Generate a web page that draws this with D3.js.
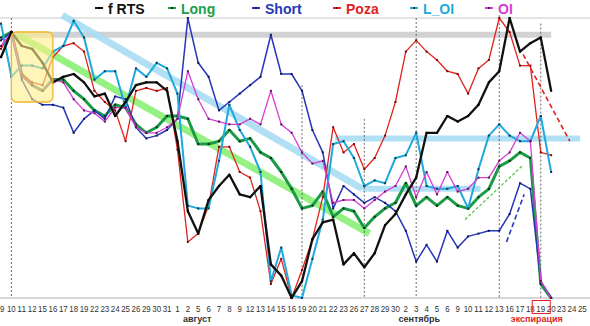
<!DOCTYPE html>
<html>
<head>
<meta charset="utf-8">
<script src="https://cdn.jsdelivr.net/npm/d3@7/dist/d3.min.js"></script>
<style>
  html, body { margin: 0; padding: 0; background: #fff; }
  svg { display: block; font-family: "Liberation Sans", Arial, sans-serif; }
</style>
</head>
<body>
<svg id="chart" width="590" height="326"></svg>
<script>
// Trading days, July 9 – September 25
const dayLabels = ["9","10","11","12","15","16","17","18","19","22","23","24","25","26","29","30","31",
  "1","2","5","6","7","8","9","12","13","14","15","16","19","20","21","22","23","26","27","28","29","30",
  "2","3","4","5","6","9","10","11","12","13","16","17","18","19","20","23","24","25"];

// Normalised series (0–100 of each series' own range)
const fRTS  = [86,95,90,89,84,77,79,80,77,72,73,65,70,76,77,77,74,56,31,23,35,40,44,37,36,40,12,8,0,6,21,27,28,12,16,11,16,26,30,37,43,59,59,65,63,65,69,77,81,100,88,91,93,74];
const longS = [93,95,80,76,74,78,78,74,71,67,65,69,68,62,59,61,65,65,64,55,55,56,60,56,57,52,50,45,39,32,33,38,29,32,31,25,29,32,34,41,33,36,33,36,33,32,36,39,47,49,52,50,5,0];
const shortS= [92,95,78,71,69,69,68,59,64,67,64,72,71,61,57,58,60,64,100,84,79,67,70,73,76,79,94,80,80,74,60,52,32,40,37,34,36,34,31,24,13,19,13,24,18,22,23,24,24,30,41,39,6,0];
const poza  = [89,95,80,77,76,86,90,91,88,74,70,67,56,74,75,74,75,53,20,23,33,54,54,45,43,31,5,14,0,10,21,36,61,52,55,46,50,58,70,88,92,88,85,81,80,73,82,85,100,95,83,83,52,51];
const lOI   = [98,79,83,83,82,88,90,99,93,78,81,81,68,82,79,84,82,73,33,32,32,49,69,60,54,45,6,18,1,0,14,28,55,56,50,40,42,41,50,51,59,40,39,39,40,32,46,58,62,58,56,56,65,45];
const oI    = [90,95,79,76,74,78,77,71,67,66,63,68,68,61,59,59,61,64,81,71,64,63,62,62,64,62,74,62,59,52,48,49,34,35,35,32,35,38,40,47,36,45,37,45,38,39,43,43,49,52,59,56,6,0];

const seriesNames  = ["f RTS","Long","Short","Poza","L_OI","OI"];
const seriesValues = [fRTS, longS, shortS, poza, lOI, oI];

// Annotations: [index, value] end points
const vMarks       = [1, 29, 35, 40, 48, 52];
const vMarkTops    = [100, 76, 64, 100, 101, 98];
const grayBand     = [[1, 94], [53, 94]];
const blueTrend    = [[5.9, 101], [34.8, 39]];
const blueLevels   = [[[32.2, 57], [55.8, 57]], [[34.8, 39], [46.2, 39]]];
const greenTrend   = [[1.6, 94], [35.5, 23]];
const yellowZone   = [[1, 95], [5, 70]];
const dashedTrends = [[[44.7, 28], [50.3, 47.5]], [[48.7, 20], [50.4, 37]], [[50.3, 87], [54.8, 56]]];
const months       = [["август", 18.9], ["сентябрь", 40.3]];
const expiryIndex  = 52;

const W = 590, H = 326;
const svg = d3.select("#chart");

const x = d3.scaleLinear().domain([0, 57]).range([1, 1 + 57 * 10.38]);
const y = d3.scaleLinear().domain([0, 100]).range([298, 18]);

const styles = [
  { color: "#111111", width: 2.3, dot: "#000" },
  { color: "#1a9b45", width: 3.0, dot: "#0b2b12" },
  { color: "#2536b8", width: 1.5, dot: "#111a55" },
  { color: "#e0231f", width: 1.3, dot: "#7a0a08" },
  { color: "#1fa9dd", width: 2.0, dot: "#0d3a55" },
  { color: "#d63bd6", width: 1.3, dot: "#5a145a" }
];
const legendColors = ["#111111", "#1a9e4a", "#2536b8", "#e0231f", "#1fa9dd", "#d63bd6"];

// Frame lines
svg.append("line").attr("x1", 0).attr("x2", W).attr("y1", y(100)).attr("y2", y(100))
  .attr("stroke", "#c8c8c8").attr("stroke-width", 1);
svg.append("line").attr("x1", 0).attr("x2", W).attr("y1", y(0)).attr("y2", y(0))
  .attr("stroke", "#b0b0b0").attr("stroke-width", 1);

// Background highlight bands
const band = (pts, color, w, op) => svg.append("line")
  .attr("x1", x(pts[0][0])).attr("y1", y(pts[0][1]))
  .attr("x2", x(pts[1][0])).attr("y2", y(pts[1][1]))
  .attr("stroke", color).attr("stroke-width", w).attr("stroke-opacity", op);

band(grayBand, "#d2d2d2", 6, 1);
band(blueTrend, "#a9dcf3", 7, 0.9);
blueLevels.forEach(p => band(p, "#a9dcf3", 6, 0.9));
band(greenTrend, "#8ff07c", 7, 0.95);

// Vertical dashed markers
vMarks.forEach((d, i) => {
  svg.append("line").attr("x1", x(d)).attr("x2", x(d))
    .attr("y1", y(vMarkTops[i])).attr("y2", y(0))
    .attr("stroke", "#444").attr("stroke-width", 0.8).attr("stroke-dasharray", "2,2");
});

// Series lines
const line = d3.line().x((d, i) => x(i)).y(d => y(d));
const drawOrder = [1, 2, 3, 4, 5, 0];
drawOrder.forEach(k => {
  const vals = seriesValues[k], st = styles[k];
  svg.append("path").datum(vals)
    .attr("fill", "none").attr("stroke", st.color).attr("stroke-width", st.width)
    .attr("stroke-linejoin", "round").attr("d", line);
  svg.append("g").selectAll("rect").data(vals).join("rect")
    .attr("x", (d, i) => x(i) - 1).attr("y", d => y(d) - 1)
    .attr("width", 2).attr("height", 2).attr("fill", st.dot);
});

// Highlighted zone
svg.append("rect")
  .attr("x", x(yellowZone[0][0])).attr("y", y(yellowZone[0][1]))
  .attr("width", x(yellowZone[1][0]) - x(yellowZone[0][0]))
  .attr("height", y(yellowZone[1][1]) - y(yellowZone[0][1]))
  .attr("rx", 5).attr("fill", "#ffee88").attr("fill-opacity", 0.6)
  .attr("stroke", "#f2b531").attr("stroke-width", 1.3);

// Dashed trend hints
const dashColors = ["#4cc23a", "#2536b8", "#e0231f"];
const dashStyles = ["3,2", "5,3", "5,3"];
const dashWidths = [1.2, 1.6, 1.6];
dashedTrends.forEach((p, i) => {
  svg.append("line")
    .attr("x1", x(p[0][0])).attr("y1", y(p[0][1]))
    .attr("x2", x(p[1][0])).attr("y2", y(p[1][1]))
    .attr("stroke", dashColors[i]).attr("stroke-width", dashWidths[i])
    .attr("stroke-dasharray", dashStyles[i]);
});

// X axis labels (narrow digits)
svg.append("g").selectAll("text").data(dayLabels).join("text")
  .attr("x", (d, i) => i === 0 ? 0 : x(i)).attr("y", 312)
  .attr("text-anchor", (d, i) => i === 0 ? "start" : "middle")
  .attr("font-size", 9.5).attr("fill", "#333")
  .attr("textLength", d => d.length * 4.4).attr("lengthAdjust", "spacingAndGlyphs")
  .text(d => d);

months.forEach(m => {
  svg.append("text").attr("x", x(m[1])).attr("y", 322)
    .attr("text-anchor", "middle").attr("font-size", 9).attr("font-weight", "bold")
    .attr("fill", "#333").text(m[0]);
});

svg.append("rect").attr("x", x(expiryIndex) - 8.5).attr("y", 300.5)
  .attr("width", 18).attr("height", 13)
  .attr("fill", "none").attr("stroke", "#e0231f").attr("stroke-width", 1);
svg.append("text").attr("x", x(expiryIndex) - 4).attr("y", 322)
  .attr("text-anchor", "middle").attr("font-size", 9).attr("font-weight", "bold")
  .attr("fill", "#e0231f").text("экспирация");

// Legend
const legendX = [95, 168, 252, 333, 410, 485];
seriesNames.forEach((name, i) => {
  const g = svg.append("g").attr("transform", `translate(${legendX[i]},8)`);
  g.append("line").attr("x1", 0).attr("x2", 8).attr("y1", 0).attr("y2", 0)
    .attr("stroke", styles[i].color).attr("stroke-width", 2);
  g.append("rect").attr("x", 3).attr("y", -1).attr("width", 2).attr("height", 2).attr("fill", styles[i].dot);
  g.append("text").attr("x", 13).attr("y", 5.5)
    .attr("font-size", 14).attr("font-weight", "bold")
    .attr("fill", legendColors[i]).text(name);
});
</script>
</body>
</html>
